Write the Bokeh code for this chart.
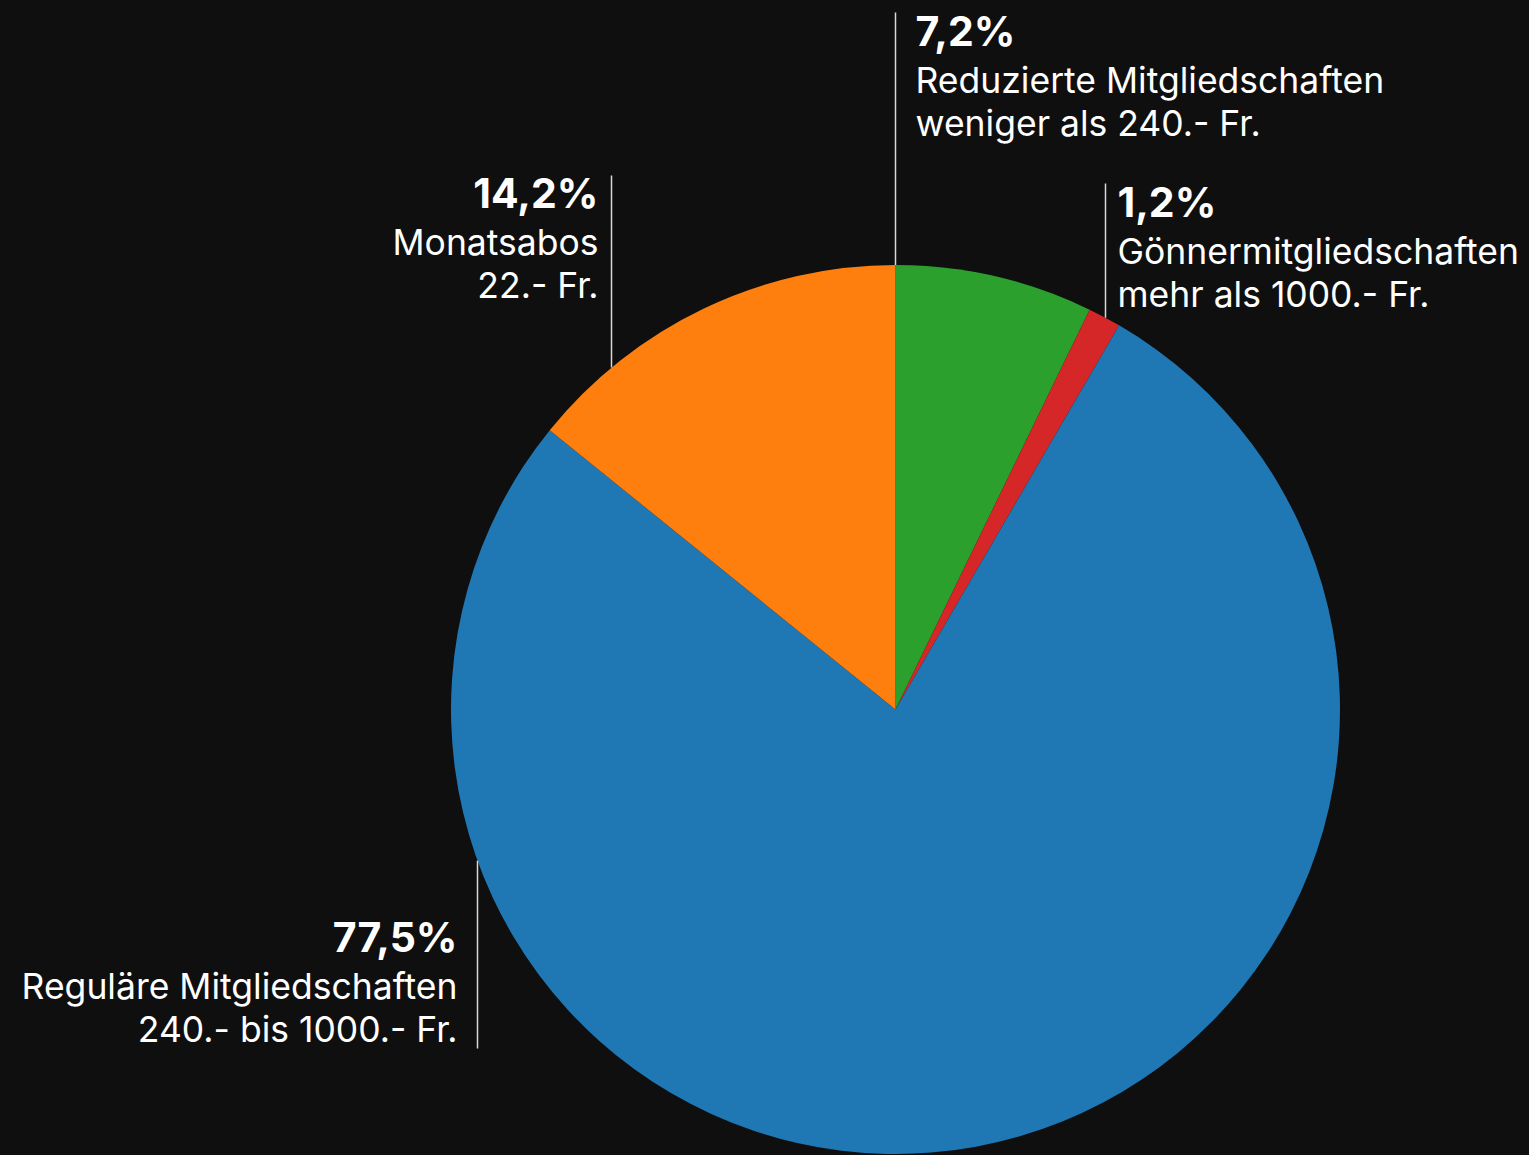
import math
from bokeh.plotting import figure
from bokeh.models import Range1d, ColumnDataSource
from bokeh.core.properties import value
from bokeh.embed import file_html
from bokeh.resources import INLINE

# ---- data ----
categories = ["Reduzierte Mitgliedschaften", "Gönnermitgliedschaften",
              "Reguläre Mitgliedschaften", "Monatsabos"]
shares = [7.2, 1.2, 77.5, 14.2]
detail = ["weniger als 240.- Fr.", "mehr als 1000.- Fr.",
          "240.- bis 1000.- Fr.", "22.- Fr."]
colors = ["#2ca02c", "#d62728", "#1f77b4", "#ff7f0e"]

# ---- layout (image pixel coords) ----
W, H = 1529, 1155
CX, CY_IMG, R = 895, 709, 444.5
BG = "#0f0f0f"
# label layout in same order as data
lab_line_x = [895, 1105, 477, 611]
lab_line_y0 = [12, 183, 863, 175]
lab_line_y1 = [None, None, 1048, None]
lab_text_x = [915, 1117, 457, 598]
lab_align = ["left", "left", "right", "right"]
lab_pct_base = [46, 217, 952, 208]
PCT_SHIFT = -16
LINE_SHIFT = -13

def Y(yimg):
    return H - yimg

p = figure(width=W, height=H, output_backend="svg", toolbar_location=None,
           x_range=Range1d(0, W), y_range=Range1d(0, H),
           x_axis_type=None, y_axis_type=None, min_border=0,
           background_fill_color=BG, border_fill_color=BG, outline_line_color=None)
p.xgrid.visible = False
p.ygrid.visible = False

total = sum(shares)
starts, ends = [], []
cum = 0.0
for s in shares:
    starts.append(math.pi / 2 - cum / total * 2 * math.pi)
    cum += s
    ends.append(math.pi / 2 - cum / total * 2 * math.pi)

src = ColumnDataSource(dict(start=starts, end=ends, color=colors))
p.wedge(x=CX, y=Y(CY_IMG), radius=R, start_angle="start", end_angle="end",
        direction="clock", fill_color="color", line_color=None, source=src)

# leader lines
for i in range(len(shares)):
    lx = lab_line_x[i]
    dx = lx - CX
    edge_dy = math.sqrt(max(R * R - dx * dx, 0))
    if lab_line_y1[i] is None:
        y0, y1 = lab_line_y0[i], CY_IMG - edge_dy
    else:
        y0, y1 = CY_IMG + edge_dy, lab_line_y1[i]
    p.line(x=[lx, lx], y=[Y(y0), Y(y1)], line_color="#d8d8d8", line_width=1.5)

pct_txt = [f"{s:.1f}".replace(".", ",") + "%" for s in shares]
for i in range(len(shares)):
    b = lab_pct_base[i]
    p.text(x=[lab_text_x[i]], y=[Y(b + PCT_SHIFT)], text=[pct_txt[i]], text_color="white",
           text_font=value("Inter"), text_font_style="bold", text_font_size="41px",
           text_align=lab_align[i], text_baseline="alphabetic")
    p.text(x=[lab_text_x[i]] * 2, y=[Y(b + 47 + LINE_SHIFT), Y(b + 90 + LINE_SHIFT)],
           text=[categories[i], detail[i]], text_color="white",
           text_font=value("Inter"), text_font_size="35.5px",
           text_align=lab_align[i], text_baseline="alphabetic")

html = file_html(p, INLINE)
html = html.replace("</head>", "<style>html,body{background:%s;}</style></head>" % BG, 1)
open("out.html", "w").write(html)
